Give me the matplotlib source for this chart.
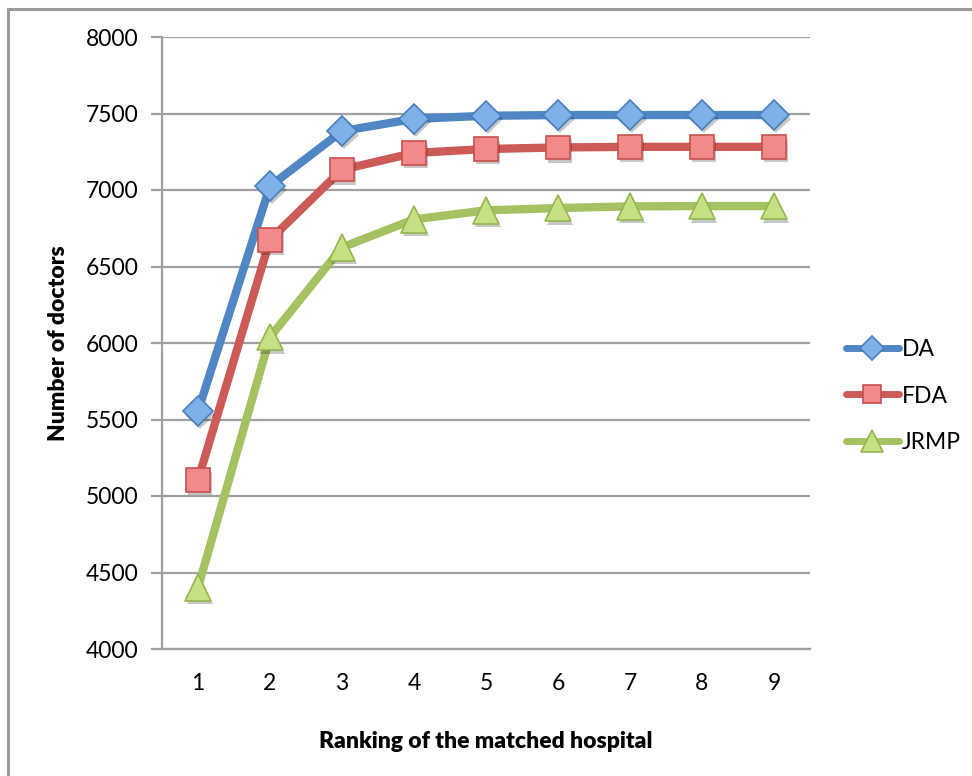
import matplotlib
matplotlib.use("Agg")
import matplotlib.pyplot as plt
import matplotlib.patheffects as pe
from matplotlib.lines import Line2D

# ranking of the matched hospital vs. cumulative number of doctors
ranks = [1, 2, 3, 4, 5, 6, 7, 8, 9]
da = [5555, 7025, 7385, 7465, 7485, 7490, 7490, 7490, 7490]
fda = [5105, 6675, 7133, 7242, 7268, 7278, 7282, 7282, 7282]
jrmp = [4402, 6038, 6625, 6808, 6867, 6882, 6893, 6895, 6895]

y_ticks = [4000, 4500, 5000, 5500, 6000, 6500, 7000, 7500, 8000]

plt.rcParams['font.family'] = ['Lato', 'DejaVu Sans']

fig = plt.figure(figsize=(9.72, 7.76), dpi=100)
# plot area in pixels: x 162..810, y 37..649
ax = fig.add_axes([162 / 972, 1 - 649 / 776, 648 / 972, 612 / 776])

# chart frame (only top/left edges fall inside the canvas)
fig.add_artist(Line2D([8 / 972, 8 / 972], [0, 1 - 8.5 / 776],
                      transform=fig.transFigure, color="#9a9a9a", lw=2.2))
fig.add_artist(Line2D([8 / 972, 1], [1 - 8.5 / 776, 1 - 8.5 / 776],
                      transform=fig.transFigure, color="#9a9a9a", lw=2.2))

series = [
    ("DA", da, "#5086c4", "#7fb0e8", "#4a7fbe", "D", 15),
    ("FDA", fda, "#cc5b57", "#f2898a", "#c9504c", "s", 17),
    ("JRMP", jrmp, "#a4c262", "#c6e084", "#94b64e", "^", 19),
]

shadow = [pe.SimplePatchShadow(offset=(1.5, -2.5), shadow_rgbFace="#000000", alpha=0.22), pe.Normal()]

for name, vals, lc, fc, ec, mk, ms in series:
    ax.plot(ranks, vals, color=lc, lw=6, solid_capstyle="round",
            solid_joinstyle="round", zorder=3)
    ax.plot(ranks, vals, ls="none", marker=mk, ms=ms, mfc=fc, mec=ec,
            mew=1.2, zorder=4, path_effects=shadow)

ax.set_xlim(0.5, 9.5)
ax.set_ylim(4000, 8000)
ax.set_xticks(ranks)
ax.set_yticks(y_ticks)
ax.yaxis.grid(True, color="#a0a0a0", lw=1.6)
ax.set_axisbelow(True)

for s in ("top", "right"):
    ax.spines[s].set_visible(False)
for s in ("left", "bottom"):
    ax.spines[s].set_color("#a0a0a0")
    ax.spines[s].set_linewidth(1.6)

ax.tick_params(axis="y", direction="out", length=8, width=1.6, color="#a0a0a0",
               labelsize=16.5, pad=9)
ax.tick_params(axis="x", length=0, labelsize=16.5, pad=17)

ax.set_xlabel("Ranking of the matched hospital", fontsize=16.5, fontweight="heavy",
              labelpad=27)
ax.set_ylabel("Number of doctors", fontsize=16.5, fontweight="heavy", labelpad=12)

handles = [Line2D([], [], color=lc, lw=5, marker=mk, ms=ms * 0.8, mfc=fc, mec=ec,
                  mew=1.2, solid_capstyle="round")
           for _, _, lc, fc, ec, mk, ms in series]
fig.legend(handles, [s[0] for s in series], loc="center left",
           bbox_to_anchor=(846 / 972, 1 - 396 / 776), frameon=False,
           borderpad=0, borderaxespad=0,
           fontsize=16.5, handlelength=2.3, labelspacing=1.12, handletextpad=0.15)

fig.savefig("out.png", dpi=100, facecolor="white")
